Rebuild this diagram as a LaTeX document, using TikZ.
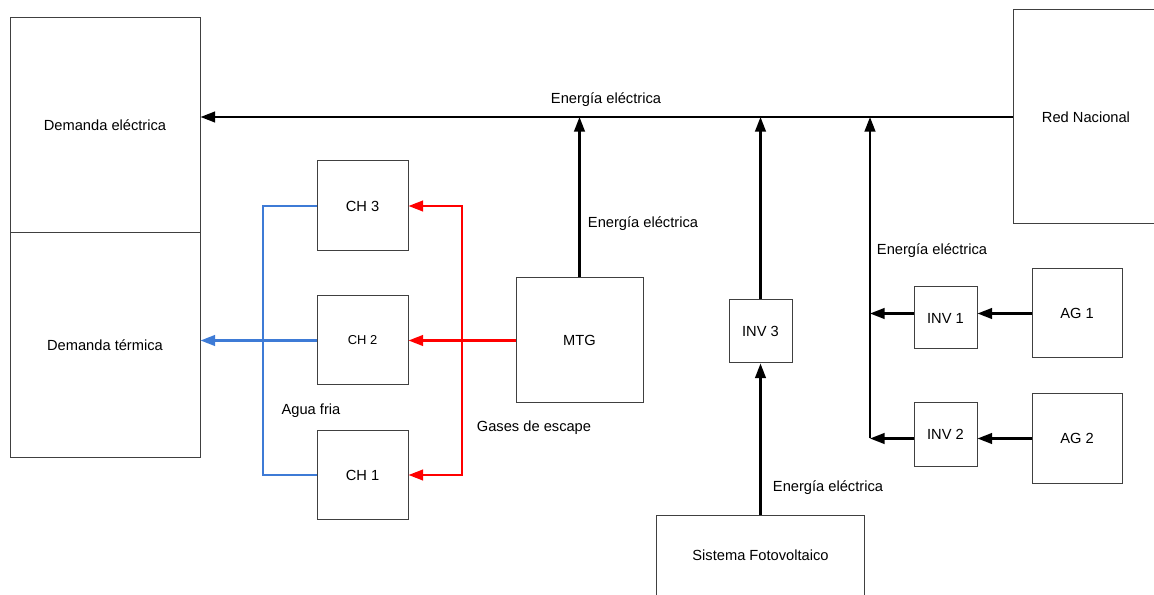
\documentclass[tikz,border=0pt]{standalone}
\usepackage{fontspec}
\setmainfont{Liberation Sans}
\usetikzlibrary{positioning,arrows.meta,calc}
\definecolor{gasred}{RGB}{255,0,0}
\definecolor{waterblue}{RGB}{62,123,214}
\tikzset{
  flowarrow/.style={-{Triangle[length=11pt, width=8pt]}, line width=1.7pt},
  flowline/.style={line width=1.7pt},
  gasarrow/.style={-{Triangle[length=11pt, width=8pt]}, line width=1.7pt, gasred},
  waterline/.style={line width=1.7pt, waterblue},
  waterarrow/.style={waterline, -{Triangle[length=11pt, width=8pt]}},
  unitbox/.style={draw=black!75, line width=0.75pt, fill=white, inner sep=0pt, align=center},
  boxsize/.style 2 args={minimum width=#1*0.75pt, minimum height=#2*0.75pt},
  flowlabel/.style={inner sep=1pt}
}
\begin{document}
\begin{tikzpicture}[x=0.75pt, y=-0.75pt, every node/.style={font=\fontsize{11}{13}\selectfont}]
  \useasboundingbox (0,0) rectangle (1154,595);

  % demand side
  \node[unitbox, boxsize={190}{215}] (deme) at (105,125.5) {Demanda eléctrica};
  \node[unitbox, boxsize={190}{224}] (demt) at (105,345) {Demanda térmica};
  \node[unitbox, boxsize={146}{214}] (red) at (1086,117) {Red Nacional};

  % chillers and turbine
  \node[unitbox, boxsize={91}{90}] (ch3) at (362.5,206) {CH 3};
  \node[unitbox, boxsize={91}{89}, font=\fontsize{9.7}{12}\selectfont] (ch2) at (362.5,340.5) {CH 2};
  \node[unitbox, boxsize={91}{89}] (ch1) at (362.5,475) {CH 1};
  \node[unitbox, boxsize={127}{125}] (mtg) at (579.5,340.5) {MTG};

  % inverters and generators
  \node[unitbox, boxsize={63}{63}] (inv3) at (760.5,331.5) {INV 3};
  \node[unitbox, boxsize={208}{80}] (pv) at (760.5,555) {Sistema Fotovoltaico};
  \node[unitbox, boxsize={63}{62}] (inv1) at (945.5,318) {INV 1};
  \node[unitbox, boxsize={63}{63}] (inv2) at (945.5,434.5) {INV 2};
  \node[unitbox, boxsize={90}{89}] (ag1) at (1077,313.5) {AG 1};
  \node[unitbox, boxsize={90}{89}] (ag2) at (1077,438.5) {AG 2};

  \coordinate (gj) at (462,340.5);
  \coordinate (wj) at (263,340.5);
  \coordinate (tap) at (870,117);
  \coordinate (corner) at (870,438.5);

  % electric bus
  \draw[flowarrow] (red.west) -- (red.west -| deme.east);
  \draw[flowarrow] (mtg.north) -- (mtg.north |- red.west);
  \draw[flowarrow] (inv3.north) -- (inv3.north |- red.west);
  \draw[flowarrow] (pv.north) -- (inv3.south);
  \draw[flowarrow] (corner) -- (tap);
  \draw[flowarrow] (ag1.west) -- (ag1.west -| inv1.east);
  \draw[flowarrow] (ag2.west) -- (ag2.west -| inv2.east);
  \draw[flowarrow] (ag1.west -| inv1.west) -- (ag1.west -| corner);
  \draw[flowarrow] (ag2.west -| inv2.west) -- (corner);

  % exhaust gases
  \draw[gasarrow] (mtg.west) -- (ch2.east);
  \draw[gasarrow] (gj) |- (ch3.east);
  \draw[gasarrow] (gj) |- (ch1.east);

  % chilled water
  \draw[waterline] (ch3.west) -| (wj) |- (ch1.west);
  \draw[waterarrow] (ch2.west) -- (ch2.west -| demt.east);

  % labels
  \node[flowlabel] (lbus) at (606,100) {Energía eléctrica};
  \node[flowlabel] (lmtg) at (643,224) {Energía eléctrica};
  \node[flowlabel] (lag) at (932,251) {Energía eléctrica};
  \node[flowlabel] (lpv) at (828,488) {Energía eléctrica};
  \node[flowlabel] (lwater) at (311,411) {Agua fria};
  \node[flowlabel] (lgas) at (534,428) {Gases de escape};
\end{tikzpicture}
\end{document}
